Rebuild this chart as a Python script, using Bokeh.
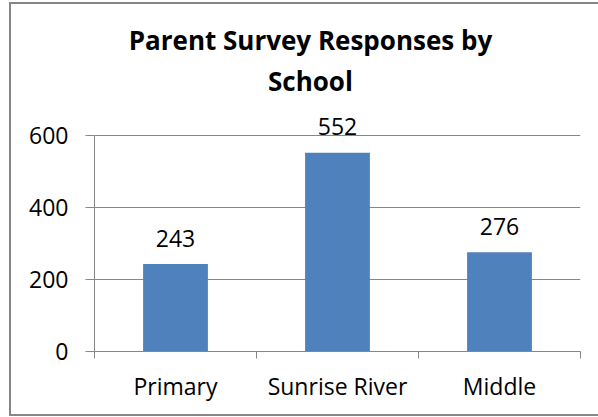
from bokeh.plotting import figure
from bokeh.models import (ColumnDataSource, FactorRange, Range1d, LinearAxis,
                          FixedTicker, LabelSet, Label, InlineStyleSheet)
from bokeh.core.properties import value
from bokeh.embed import file_html
from bokeh.resources import INLINE

schools = ["Primary", "Sunrise River", "Middle"]
responses = [243, 552, 276]
y_ticks = [0, 200, 400, 600]
title_lines = ["Parent Survey Responses by", "School"]

FONT = "Open Sans"
GRAY = "#868686"

src = ColumnDataSource(dict(x=schools, top=responses, label=[str(v) for v in responses]))

p = figure(width=598, height=417, output_backend="svg", toolbar_location=None,
           x_range=FactorRange(factors=schools, range_padding=0),
           y_range=Range1d(0, 975), x_axis_location=None, y_axis_location="left",
           min_border_left=94, min_border_right=18, min_border_top=0, min_border_bottom=66,
           title=None)
p.outline_line_color = None
p.background_fill_color = "white"
p.border_fill_color = "white"

p.vbar(x="x", top="top", bottom=0, width=0.4, source=src, fill_color="#4F81BD", line_color=None)

# y axis
ya = p.yaxis[0]
ya.ticker = FixedTicker(ticks=y_ticks)
ya.bounds = (0, 600)
ya.axis_line_color = GRAY
ya.major_tick_line_color = GRAY
ya.major_tick_out = 9
ya.major_tick_in = 0
ya.minor_tick_line_color = None
ya.major_label_standoff = 17
ya.major_label_text_font = FONT
ya.major_label_text_font_size = "23px"
ya.major_label_text_color = "black"

p.ygrid.ticker = FixedTicker(ticks=y_ticks)
p.ygrid.grid_line_color = GRAY
p.xgrid.grid_line_color = None

# x axis: labels at category centres, boundary tick marks as minor ticks
n = len(schools)
centres = [i + 0.5 for i in range(n)]
bounds_ticks = [float(i) for i in range(n + 1)]
xa = LinearAxis(ticker=FixedTicker(ticks=centres, minor_ticks=bounds_ticks))
xa.major_label_overrides = {c: s for c, s in zip(centres, schools)}
xa.axis_line_color = GRAY
xa.major_tick_line_color = None
xa.major_tick_out = 0
xa.major_tick_in = 0
xa.minor_tick_line_color = GRAY
xa.minor_tick_out = 7
xa.minor_tick_in = 0
xa.major_label_standoff = 11
xa.major_label_text_font = FONT
xa.major_label_text_font_size = "23px"
xa.major_label_text_color = "black"
p.add_layout(xa, "below")

labels = LabelSet(x="x", y="top", text="label", source=src, y_offset=26,
                  text_align="center", text_baseline="middle",
                  text_font=value(FONT), text_font_size=value("23px"), text_color="black")
p.add_layout(labels)

for t, ty in zip(title_lines, [865, 751]):
    p.add_layout(Label(x=1.333, y=ty, text=t,
                       text_align="center", text_baseline="middle",
                       text_font=FONT, text_font_size="26px", text_font_style="bold",
                       text_color="black"))

p.stylesheets = [InlineStyleSheet(css="""
:host { position: relative; overflow: hidden; }
:host::after { content: ""; position: absolute; left: 9px; top: 2px; width: 640px; height: 414px;
  border: 2px solid #868686; box-sizing: border-box; pointer-events: none; z-index: 100; }
""")]

open("out.html", "w").write(file_html(p, INLINE))
